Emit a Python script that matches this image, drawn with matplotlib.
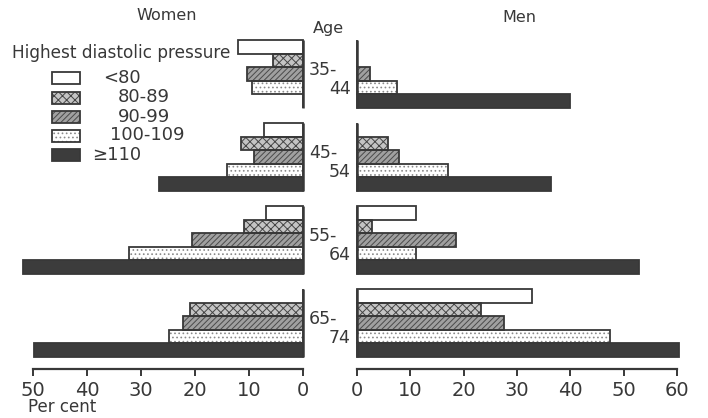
import matplotlib
matplotlib.use('Agg')
import matplotlib.pyplot as plt
from matplotlib.patches import Rectangle

# ---------------- data ----------------
age_groups_top = ['35-', '45-', '55-', '65-']
age_groups_bottom = ['44', '54', '64', '74']
categories = ['<80', '80-89', '90-99', '100-109', '≥110']

women_lt80 = [12.0, 7.3, 6.9, 0.0]
women_80_89 = [5.6, 11.5, 11.0, 21.0]
women_90_99 = [10.3, 9.1, 20.5, 22.3]
women_100_109 = [9.5, 14.1, 32.2, 24.9]
women_ge110 = [0.0, 26.6, 51.8, 49.9]

men_lt80 = [0.0, 0.0, 11.1, 32.9]
men_80_89 = [0.0, 5.9, 2.9, 23.2]
men_90_99 = [2.5, 8.0, 18.6, 27.6]
men_100_109 = [7.5, 17.1, 11.1, 47.4]
men_ge110 = [40.0, 36.3, 52.9, 60.4]

women_ticks = [50, 40, 30, 20, 10, 0]
men_ticks = [0, 10, 20, 30, 40, 50, 60]

women_series = [women_lt80, women_80_89, women_90_99, women_100_109, women_ge110]
men_series = [men_lt80, men_80_89, men_90_99, men_100_109, men_ge110]

# ---------------- style ----------------
INK = '#383838'
styles = [
    dict(face='white', hatch=None, hc=None),
    dict(face='#c4c4c4', hatch='xxxx', hc='#454545'),
    dict(face='#a0a0a0', hatch='//////', hc='#4a4a4a'),
    dict(face='white', hatch='....', hc='#8a8a8a'),
    dict(face='#3c3c3c', hatch=None, hc=None),
]
plt.rcParams['font.family'] = ['DejaVu Sans']
plt.rcParams['hatch.linewidth'] = 0.7

W, H = 708, 418
fig = plt.figure(figsize=(W / 100, H / 100), dpi=100)

TOP, BOT = 40, 369          # pixel rows of plot area
STRIDE, BH = 83, 13.5       # group stride and bar height in pixels


def fx(px):
    return px / W


def fy(py):
    return 1 - py / H


def make_axes(x0, x1):
    return fig.add_axes([fx(x0), fy(BOT), fx(x1) - fx(x0), fy(TOP) - fy(BOT)])


axW = make_axes(33, 303)
axM = make_axes(356.7, 677.3)

for ax, series, xlim, ticks in [(axW, women_series, (50, 0), women_ticks),
                                (axM, men_series, (0, 60), men_ticks)]:
    ax.set_xlim(*xlim)
    ax.set_ylim(BOT, TOP)
    for i, (vals, st) in enumerate(zip(series, styles)):
        ys = [TOP + g * STRIDE + (i + 0.5) * BH for g in range(len(vals))]
        ax.barh(ys, vals, height=BH, color=st['face'], linewidth=0, clip_on=False, zorder=2)
        if st['hatch']:
            ax.barh(ys, vals, height=BH, facecolor='none', edgecolor=st['hc'],
                    hatch=st['hatch'], linewidth=0, clip_on=False, zorder=3)
        ax.barh(ys, vals, height=BH, facecolor='none', edgecolor=INK,
                linewidth=1.3, clip_on=False, zorder=4)
    for g in range(len(age_groups_top)):
        top = TOP + g * STRIDE
        ax.plot([0, 0], [top, top + 5 * BH], color=INK, lw=1.8,
                clip_on=False, zorder=5, solid_capstyle='butt')
    for s in ['left', 'right', 'top']:
        ax.spines[s].set_visible(False)
    ax.spines['bottom'].set_color(INK)
    ax.spines['bottom'].set_linewidth(1.6)
    ax.set_yticks([])
    ax.set_xticks(ticks)
    ax.set_xticklabels([str(t) for t in ticks])
    ax.tick_params(axis='x', direction='out', length=5, width=1.4, color=INK,
                   labelcolor=INK, labelsize=14, pad=3.5)
    ax.patch.set_alpha(0)

# ---------------- overlay text / legend ----------------
lay = fig.add_axes([0, 0, 1, 1], zorder=-1)
lay.set_xlim(0, W)
lay.set_ylim(H, 0)
lay.axis('off')

lay.text(167, 16, 'Women', ha='center', va='center', fontsize=11.5, color=INK)
lay.text(519, 17, 'Men', ha='center', va='center', fontsize=11.5, color=INK)
lay.text(328, 28, 'Age', ha='center', va='center', fontsize=11.5, color=INK)
lay.text(12, 53, 'Highest diastolic pressure', ha='left', va='center',
         fontsize=12.2, color=INK)
lay.text(28, 407, 'Per cent', ha='left', va='center', fontsize=12, color=INK)

for g in range(len(age_groups_top)):
    c = TOP + g * STRIDE + 2.5 * BH
    lay.text(309, c - 4, age_groups_top[g], ha='left', va='center', fontsize=12.5, color=INK)
    lay.text(351, c + 15.5, age_groups_bottom[g], ha='right', va='center', fontsize=12.5, color=INK)

leg_centers = [78, 97.5, 117, 135.5, 155]
leg_label_x = [103, 118, 118, 110, 92]
for i, (lab, st) in enumerate(zip(categories, styles)):
    yc = leg_centers[i]
    lay.add_patch(Rectangle((52, yc - 6), 28, 12, facecolor=st['face'], linewidth=0))
    if st['hatch']:
        lay.add_patch(Rectangle((52, yc - 6), 28, 12, facecolor='none', edgecolor=st['hc'],
                                hatch=st['hatch'], linewidth=0))
    lay.add_patch(Rectangle((52, yc - 6), 28, 12, facecolor='none', edgecolor=INK, linewidth=1.3))
    lay.text(leg_label_x[i], yc, lab, ha='left', va='center', fontsize=13, color=INK)

fig.savefig('out.png', dpi=100)
